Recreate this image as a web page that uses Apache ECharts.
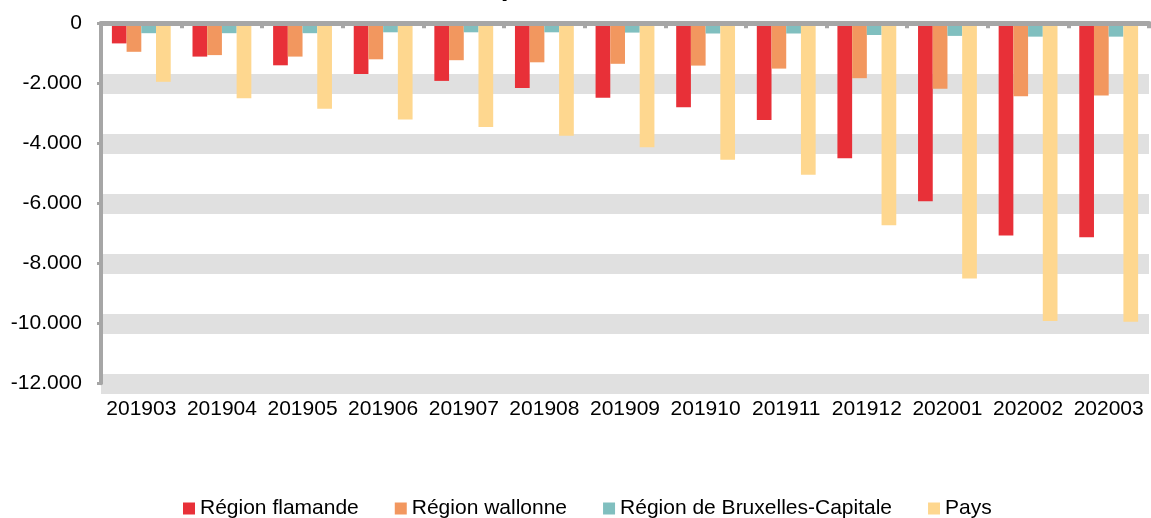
<!DOCTYPE html>
<html>
<head>
    <meta charset="utf-8" />
    <title></title>
    <script src="https://cdn.jsdelivr.net/npm/echarts@6/dist/echarts.min.js"></script>
    <style>
        html, body { margin: 0; padding: 0; background: #fff; }
        #container { width: 1151px; height: 518px; }
    </style>
</head>
<body>
    <div id="container"></div>
    <script>
        var mois = ['201903', '201904', '201905', '201906', '201907', '201908', '201909',
            '201910', '201911', '201912', '202001', '202002', '202003'];
        var flamande = [-670, -1110, -1400, -1690, -1920, -2160, -2480, -2800, -3220, -4500, -5930, -7070, -7130];
        var wallonne = [-950, -1060, -1110, -1200, -1230, -1300, -1350, -1410, -1510, -1830, -2180, -2430, -2410];
        var bruxelles = [-330, -330, -330, -300, -300, -300, -310, -340, -340, -390, -420, -445, -445];
        var pays = [-1950, -2500, -2850, -3210, -3460, -3750, -4130, -4550, -5050, -6730, -8510, -9920, -9950];

        var noms = ['Région flamande', 'Région wallonne', 'Région de Bruxelles-Capitale', 'Pays'];
        var couleurs = ['#E83038', '#F2975F', '#80BFBF', '#FED78F'];

        var dom = document.getElementById("container");
        var myChart = echarts.init(dom);
        var police = 'Liberation Sans, Arial, sans-serif';

        // format belge : -12.000
        function fmt(v) {
            var s = String(Math.abs(v)).replace(/\B(?=(\d{3})+(?!\d))/g, '.');
            return (v < 0 ? '-' : '') + s;
        }

        var series = [flamande, wallonne, bruxelles, pays].map(function (d, i) {
            return {
                name: noms[i],
                type: 'bar',
                data: d,
                barGap: '0%',
                barCategoryGap: '27%',
                itemStyle: { color: couleurs[i] },
                animation: false
            };
        });

        var option = {
            animation: false,
            textStyle: { fontFamily: police },
            title: {
                text: 'précédente',
                left: 'center',
                top: -32,
                textStyle: { fontSize: 28, fontWeight: 'bold', color: '#000', fontFamily: police }
            },
            legend: {
                data: noms,
                left: 178,
                top: 493,
                itemWidth: 12,
                itemHeight: 12,
                itemGap: 36,
                icon: 'rect',
                textStyle: { fontSize: 21, color: '#000' }
            },
            grid: { left: 101, right: 2, top: 23.3, bottom: 134.7, containLabel: false },
            xAxis: [{
                type: 'category',
                data: mois,
                position: 'top',
                z: 5,
                axisLine: { onZero: false, lineStyle: { color: '#A6A6A6', width: 5 } },
                axisTick: { show: true, inside: true, length: 5, lineStyle: { color: '#A6A6A6', width: 4 } },
                axisLabel: { show: false }
            }, {
                type: 'category',
                data: mois,
                position: 'bottom',
                axisLine: { show: false },
                axisTick: { show: false },
                axisLabel: { fontSize: 21, color: '#000', margin: 15, interval: 0 }
            }],
            yAxis: {
                type: 'value',
                min: -12000,
                max: 0,
                interval: 2000,
                axisLine: { show: true, lineStyle: { color: '#A6A6A6', width: 4 } },
                axisTick: { show: true, length: 4, lineStyle: { color: '#A6A6A6', width: 3 } },
                axisLabel: { fontSize: 21, color: '#000', margin: 19, formatter: fmt },
                splitLine: { show: true, showMaxLine: false, lineStyle: { color: '#E0E0E0', width: 20 } }
            },
            series: series
        };
        myChart.setOption(option);
    </script>
</body>
</html>
